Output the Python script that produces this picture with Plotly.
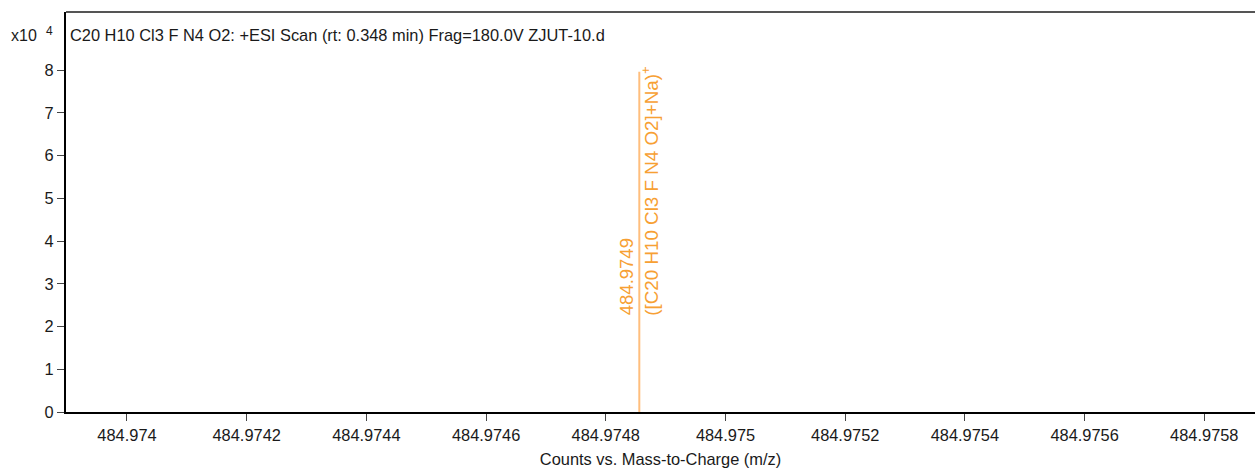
import plotly.graph_objects as go

# ---- data ----
peak_mz = [484.974856]
peak_counts = [79600]
peak_labels = ["484.9749"]
peak_formula = ["([C20 H10 Cl3 F N4 O2]+Na)<sup>+</sup>"]

x_ticks = [484.974, 484.9742, 484.9744, 484.9746, 484.9748, 484.975,
           484.9752, 484.9754, 484.9756, 484.9758]
x_ticktext = ["484.974", "484.9742", "484.9744", "484.9746", "484.9748", "484.975",
              "484.9752", "484.9754", "484.9756", "484.9758"]
y_ticks = [0, 10000, 20000, 30000, 40000, 50000, 60000, 70000, 80000]
y_ticktext = ["0", "1", "2", "3", "4", "5", "6", "7", "8"]

title_text = "C20 H10 Cl3 F N4 O2: +ESI Scan (rt: 0.348 min) Frag=180.0V ZJUT-10.d"
x_title = "Counts vs. Mass-to-Charge (m/z)"

FONT = "Liberation Sans, Arial, sans-serif"
TXT = "#1a1a1a"
LINE_C = "#FFBE7D"
LABEL_C = "#F7A033"

fig = go.Figure()
for mz, c in zip(peak_mz, peak_counts):
    fig.add_trace(go.Scatter(x=[mz, mz], y=[0, c], mode="lines",
                             line=dict(color=LINE_C, width=2),
                             hoverinfo="skip", showlegend=False))

for mz, c, lab, form in zip(peak_mz, peak_counts, peak_labels, peak_formula):
    fig.add_annotation(x=mz, y=22600, xref="x", yref="y",
                       text=lab, textangle=-90,
                       showarrow=False, xanchor="center", yanchor="bottom",
                       xshift=-12, yshift=-2,
                       font=dict(family=FONT, size=18.5, color=LABEL_C))
    fig.add_annotation(x=mz, y=22600, xref="x", yref="y",
                       text=form, textangle=-90,
                       showarrow=False, xanchor="center", yanchor="bottom",
                       xshift=11, yshift=-2,
                       font=dict(family=FONT, size=18.8, color=LABEL_C))

# title inside plot
fig.add_annotation(x=0, y=1, xref="paper", yref="paper", text=title_text,
                   showarrow=False, xanchor="left", yanchor="top",
                   xshift=2, yshift=-12,
                   font=dict(family=FONT, size=16.4, color=TXT))
# x10^4 multiplier
fig.add_annotation(x=0, y=1, xref="paper", yref="paper", text="x10",
                   showarrow=False, xanchor="right", yanchor="top",
                   xshift=-27, yshift=-13,
                   font=dict(family=FONT, size=16, color=TXT))
fig.add_annotation(x=0, y=1, xref="paper", yref="paper", text="4",
                   showarrow=False, xanchor="center", yanchor="top",
                   xshift=-17, yshift=-10,
                   font=dict(family=FONT, size=12, color=TXT))

# top border line
fig.add_shape(type="line", xref="paper", yref="paper", x0=0, x1=1, y0=1, y1=1,
              line=dict(color="#555555", width=2))

fig.update_layout(
    width=1255, height=468,
    margin=dict(l=66, r=0, t=12, b=56),
    paper_bgcolor="white", plot_bgcolor="white",
    font=dict(family=FONT, color=TXT),
    xaxis=dict(range=[484.9738981, 484.9758847],
               tickvals=x_ticks, ticktext=x_ticktext,
               showgrid=False, zeroline=False,
               showline=True, linecolor="#000000", linewidth=2,
               ticks="outside", ticklen=7, tickcolor="#444444", tickwidth=1,
               tickfont=dict(family=FONT, size=16.4, color=TXT),
               title=dict(text=x_title, font=dict(family=FONT, size=16.4, color=TXT),
                          standoff=11)),
    yaxis=dict(range=[0, 93600],
               tickvals=y_ticks, ticktext=y_ticktext,
               showgrid=False, zeroline=False,
               showline=True, linecolor="#000000", linewidth=2,
               ticks="outside", ticklen=7, tickcolor="#444444", tickwidth=1,
               tickfont=dict(family=FONT, size=16.4, color=TXT)),
)

fig.write_html("out.html",
               config={"displayModeBar": False},
               post_script="document.body.style.margin='0';"
                           "document.body.style.overflow='hidden';")
